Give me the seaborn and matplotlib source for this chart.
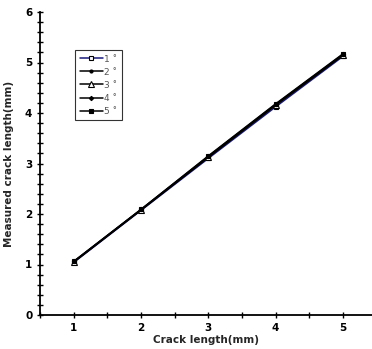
import matplotlib
matplotlib.use("Agg")
import matplotlib.pyplot as plt
import seaborn as sns
import pandas as pd
from matplotlib.ticker import MultipleLocator

crack_length = [1, 2, 3, 4, 5]
s1 = [1.04, 2.07, 3.10, 4.12, 5.12]
s2 = [1.05, 2.08, 3.12, 4.15, 5.14]
s3 = [1.05, 2.08, 3.13, 4.16, 5.15]
s4 = [1.06, 2.09, 3.14, 4.17, 5.16]
s5 = [1.06, 2.09, 3.15, 4.18, 5.17]
labels = ["1 \u02da", "2 \u02da", "3 \u02da", "4 \u02da", "5 \u02da"]
series = [s1, s2, s3, s4, s5]

sns.set_style("white")
plt.rcParams['font.family'] = ['Liberation Sans Narrow', 'DejaVu Sans']

fig = plt.figure(figsize=(3.72, 3.49), dpi=100)
ax = fig.add_axes([40/372, 34/349, 332/372, 303/349])

markers = ['s', 'o', '^', 'D', 's']
colors = ['#1a1a7a', 'black', 'black', 'black', 'black']
mfc = ['white', 'black', 'white', 'black', 'black']
msz = [3.5, 2.2, 5, 2.2, 3.5]
for vals, lab, m, c, fc, ms in zip(series, labels, markers, colors, mfc, msz):
    df = pd.DataFrame({"x": crack_length, "y": vals})
    sns.lineplot(data=df, x="x", y="y", ax=ax, color=c, marker=m, markersize=ms,
                 markerfacecolor=fc, markeredgecolor='black', markeredgewidth=0.8,
                 linewidth=1.1, label=lab)

ax.set_xlim(0.5, 0.5 + 332/67.3)
ax.set_ylim(0, 6)
ax.xaxis.set_major_locator(MultipleLocator(1))
ax.xaxis.set_minor_locator(MultipleLocator(0.5))
ax.yaxis.set_major_locator(MultipleLocator(1))
ax.yaxis.set_minor_locator(MultipleLocator(0.2))
ax.tick_params(which='both', direction='inout', length=4, width=1, colors='black',
               labelsize=7.5, bottom=True, left=True)
for lbl in ax.get_xticklabels() + ax.get_yticklabels():
    lbl.set_fontweight('bold')
ax.spines['top'].set_visible(False)
ax.spines['right'].set_visible(False)
ax.spines['left'].set_linewidth(1.3)
ax.spines['bottom'].set_linewidth(1.3)
ax.spines['left'].set_color('black')
ax.spines['bottom'].set_color('black')
ax.set_xlabel("Crack length(mm)", fontsize=7.5, fontweight='bold', labelpad=2)
ax.set_ylabel("Measured crack length(mm)", fontsize=7.5, fontweight='bold', labelpad=8)

leg = ax.legend(loc='upper left', bbox_to_anchor=(35/332, (315-50)/303), fontsize=6.5,
                frameon=True, fancybox=False, edgecolor='black', handlelength=2.6,
                labelspacing=0.45, borderpad=0.5, handletextpad=0.1, borderaxespad=0)
leg.get_frame().set_linewidth(0.8)
for t in leg.get_texts():
    t.set_color('#555555')

fig.savefig("out.png", dpi=100)
